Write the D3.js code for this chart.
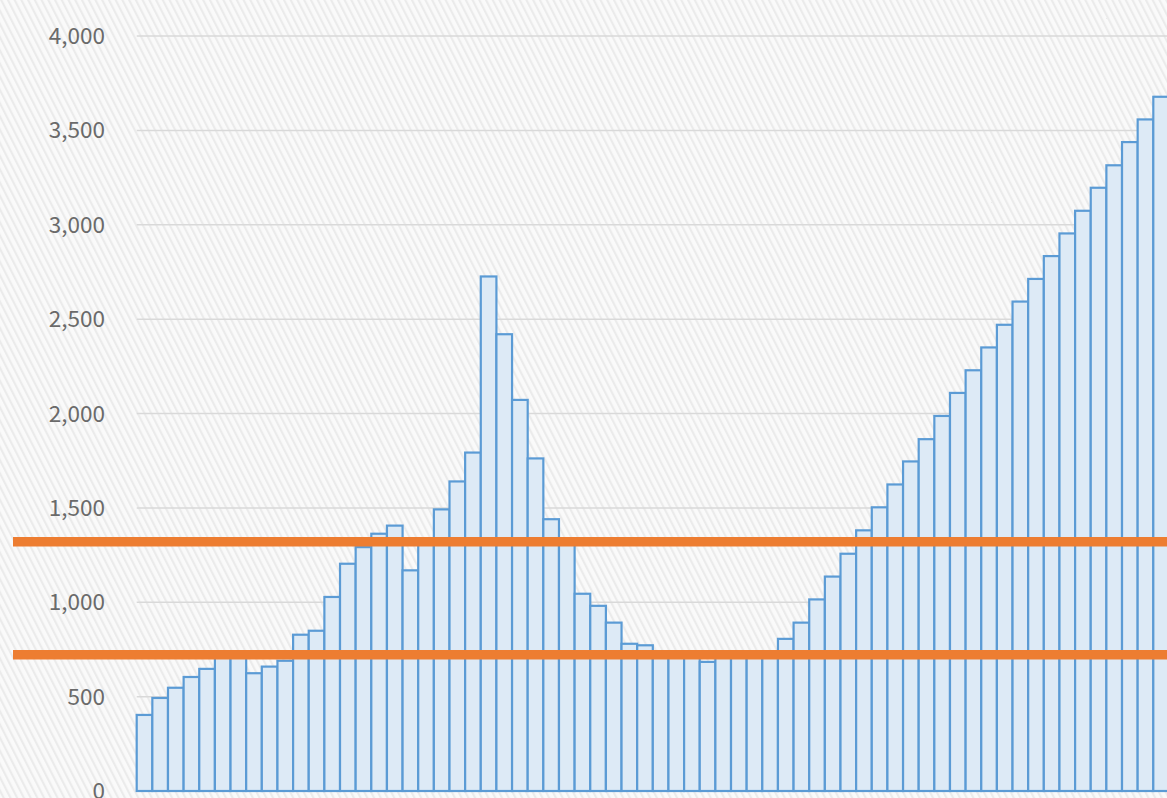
<!DOCTYPE html>
<html>
<head>
<meta charset="utf-8">
<script src="https://cdn.jsdelivr.net/npm/d3@7"></script>
<style>
  body { margin: 0; background: #f8f8f8; overflow: hidden; }
  svg { display: block; }
</style>
</head>
<body>
<svg id="chart" width="1167" height="798"></svg>
<script>
// bar values, left to right
const values = [403, 493, 547, 604, 647, 725, 730, 624, 659, 690,
  828, 849, 1028, 1204, 1292, 1363, 1406, 1169, 1330, 1492,
  1640, 1793, 2726, 2420, 2072, 1762, 1440, 1310, 1045, 981,
  892, 780, 772, 718, 712, 716, 684, 714, 718, 722,
  720, 806, 892, 1015, 1136, 1257, 1381, 1503, 1624, 1746,
  1864, 1987, 2109, 2229, 2350, 2470, 2593, 2713, 2834, 2954,
  3074, 3196, 3315, 3438, 3558, 3678];
const yTicks = [0, 500, 1000, 1500, 2000, 2500, 3000, 3500, 4000];
const refLines = [1320, 722];

let attr = {
  "width": 1167,
  "height": 798,
  "left": 136.7,
  "barStep": 15.64,
  "top": 36,
  "bottom": 791
};

var svg = d3.select("#chart");

// fabric-ish background
var defs = svg.append("defs");
var pat = defs.append("pattern")
  .attr("id", "weave")
  .attr("patternUnits", "userSpaceOnUse")
  .attr("width", 6)
  .attr("height", 6)
  .attr("patternTransform", "rotate(-27)");
pat.append("rect").attr("width", 6).attr("height", 6).attr("fill", "#fafafa");
pat.append("rect").attr("x", 0).attr("width", 2.2).attr("height", 6).attr("fill", "#ebebeb");

svg.append("rect")
  .attr("width", attr.width)
  .attr("height", attr.height)
  .attr("fill", "url(#weave)");

var x = d3.scaleBand()
  .domain(d3.range(values.length))
  .range([attr.left, attr.left + attr.barStep * values.length])
  .paddingInner(0)
  .paddingOuter(0);

var y = d3.scaleLinear().domain([0, 4000]).range([attr.bottom, attr.top]);

//gridlines
svg.append("g").selectAll("line")
  .data(yTicks)
  .enter().append("line")
  .attr("x1", attr.left)
  .attr("x2", attr.width)
  .attr("y1", d => y(d))
  .attr("y2", d => y(d))
  .style("stroke", "#d9d9d9")
  .style("stroke-width", "1.5px");

//tick labels
svg.append("g").selectAll("text")
  .data(yTicks)
  .enter().append("text")
  .attr("x", 105)
  .attr("y", d => y(d))
  .attr("dy", "0.36em")
  .attr("text-anchor", "end")
  .style("font-family", "'Noto Sans CJK JP', 'Noto Sans', sans-serif")
  .style("font-weight", 400)
  .style("font-size", "22.5px")
  .attr("fill", "#6a6a6a")
  .text(d => d3.format(",")(d));

//bars
svg.append("g").selectAll("rect")
  .data(values)
  .enter().append("rect")
  .attr("x", (d, i) => x(i))
  .attr("y", d => y(d))
  .attr("width", x.bandwidth())
  .attr("height", d => y(0) - y(d))
  .style("fill", "#ddeaf6")
  .style("stroke", "#5b9bd5")
  .style("stroke-width", "2.2px");

//orange reference lines
svg.append("g").selectAll("line")
  .data(refLines)
  .enter().append("line")
  .attr("x1", 13)
  .attr("x2", attr.width)
  .attr("y1", d => y(d))
  .attr("y2", d => y(d))
  .style("stroke", "#ed7d31")
  .style("stroke-width", "9.5px");
</script>
</body>
</html>
